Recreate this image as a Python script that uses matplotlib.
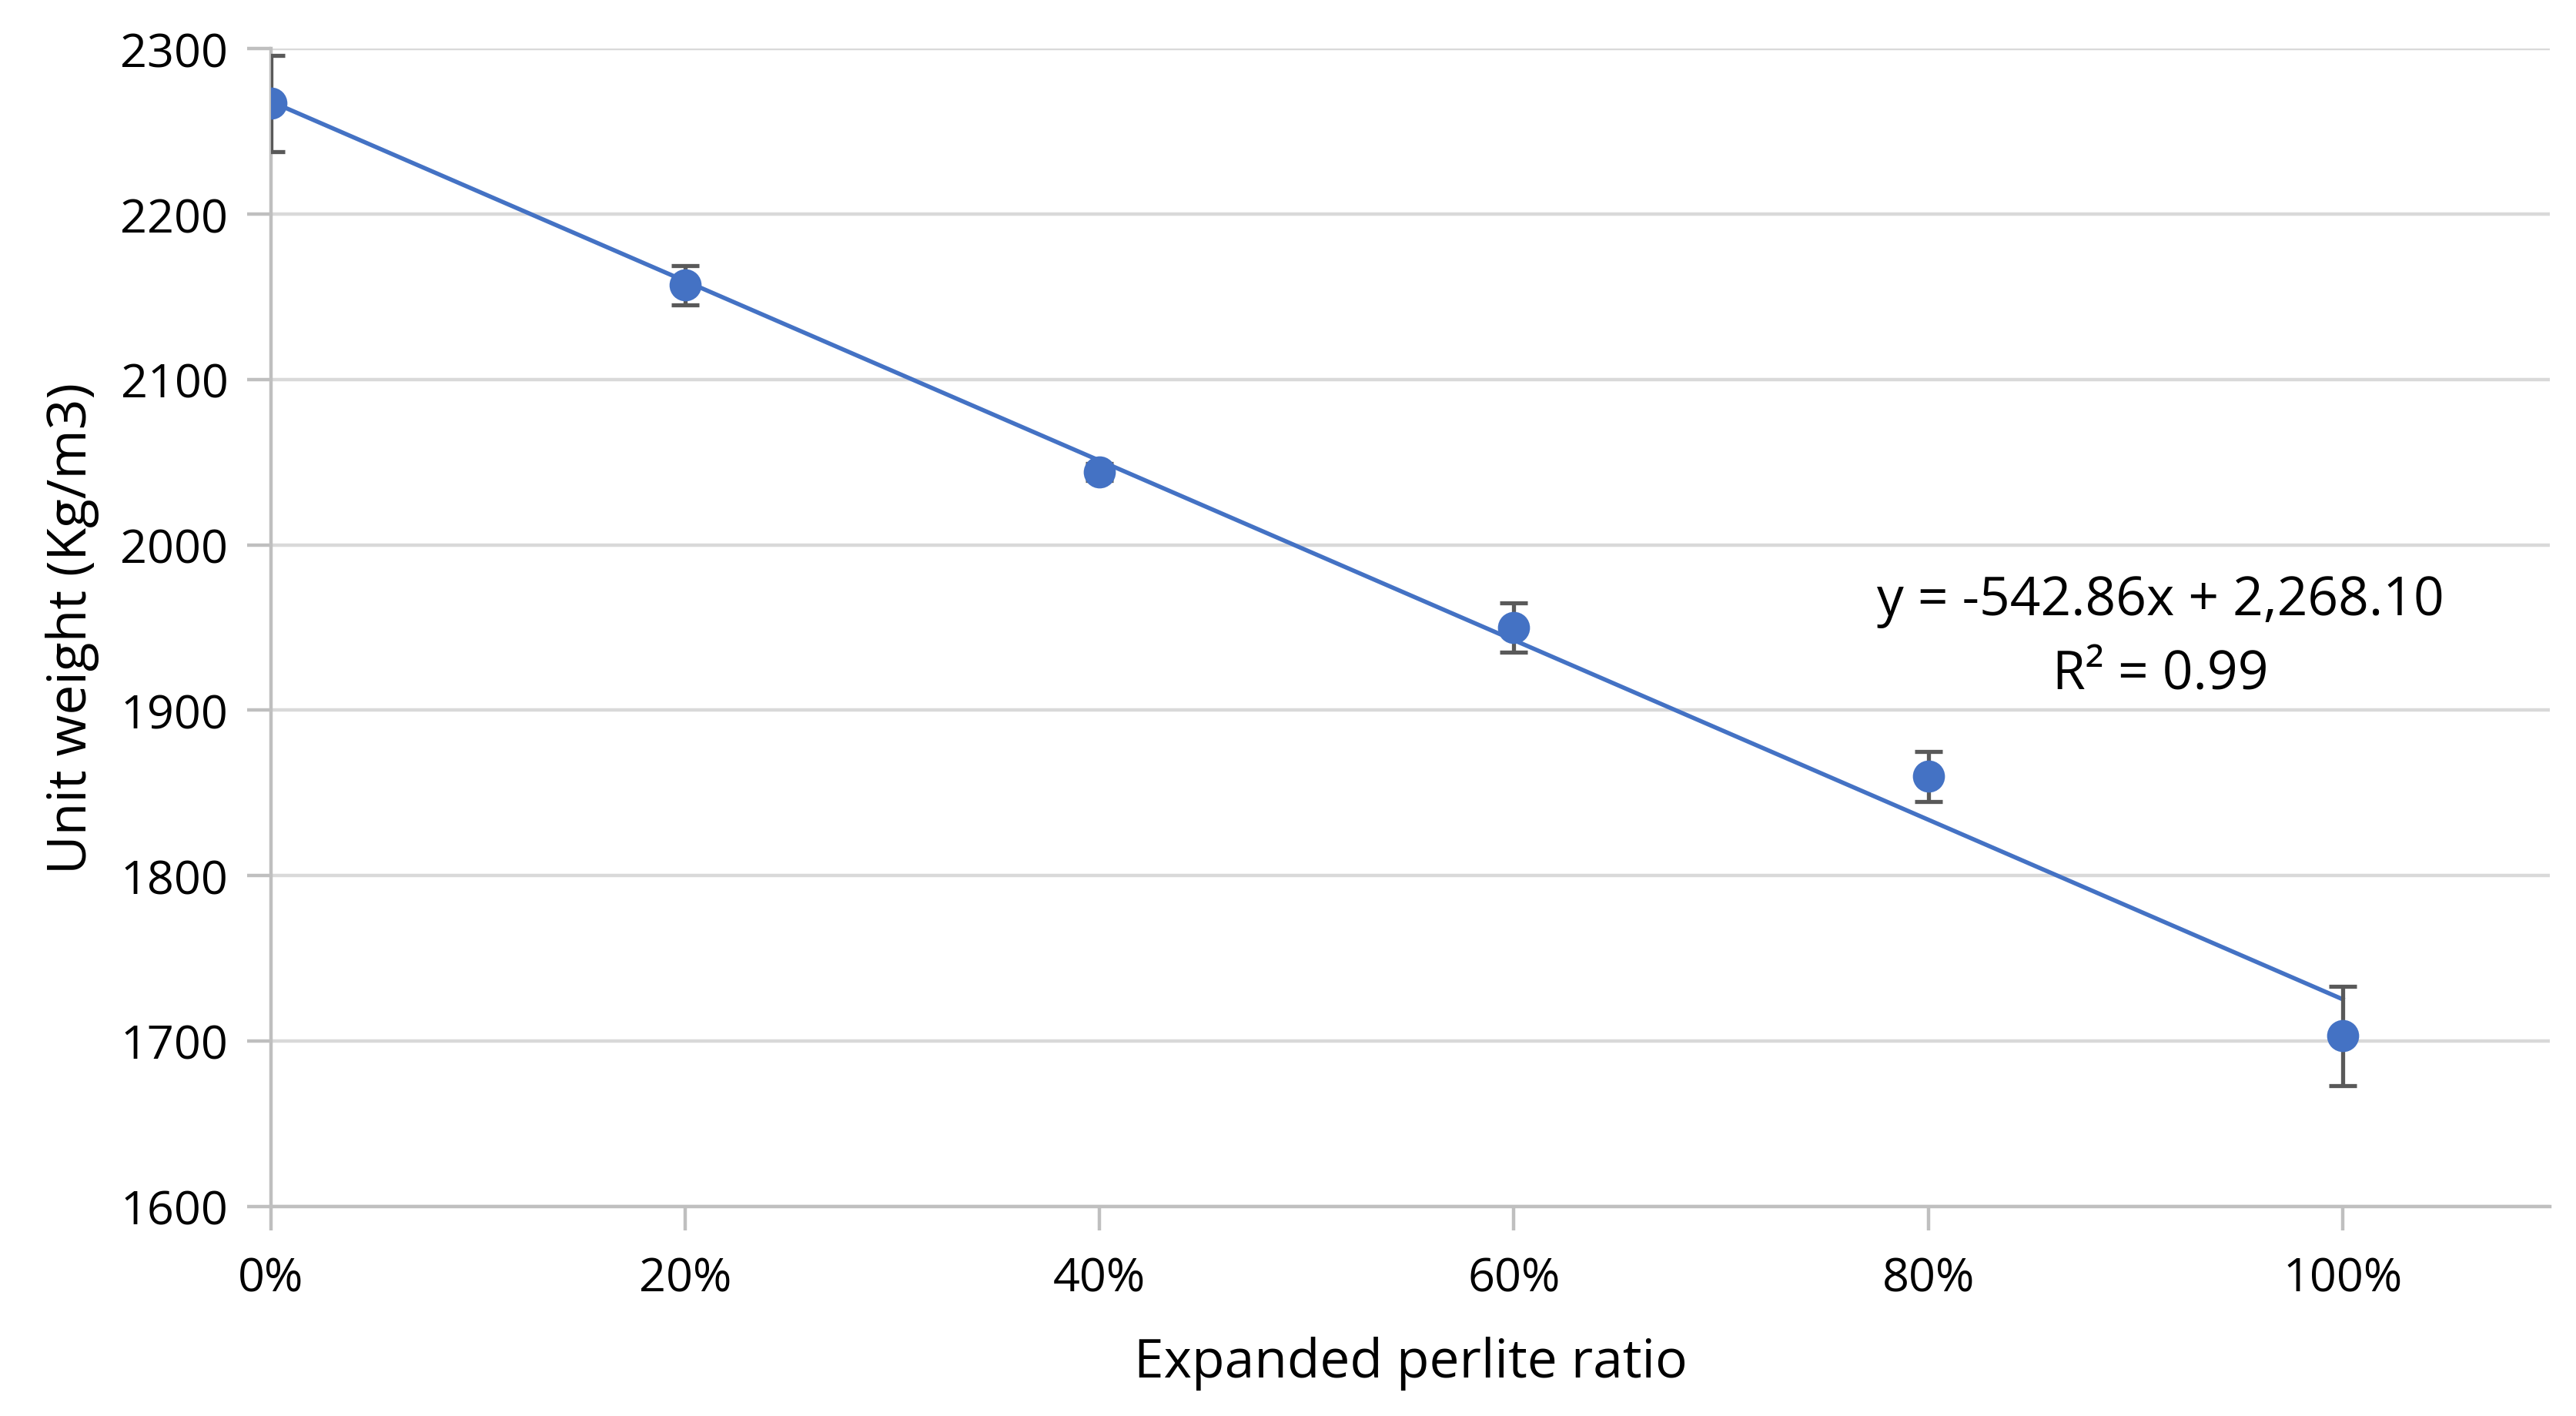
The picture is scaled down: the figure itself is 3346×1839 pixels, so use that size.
import matplotlib.pyplot as plt
import numpy as np
from matplotlib.ticker import FuncFormatter

# perlite ratio vs unit weight
ratio = [0.0, 0.2, 0.4, 0.6, 0.8, 1.0]
unit_weight = [2267, 2157, 2044, 1950, 1860, 1703]
std_dev = [29, 12, 5, 15, 15, 30]

slope = -542.86
intercept = 2268.10
r2 = 0.99

blue = '#4472C4'
grid_c = '#D9D9D9'
axis_c = '#BFBFBF'

plt.rcParams['font.family'] = ['Open Sans', 'DejaVu Sans']

fig = plt.figure(figsize=(16.73, 9.2), dpi=200)
ax = fig.add_axes([0.1052, 0.148, 0.8846, 0.817])

ax.errorbar(ratio, unit_weight, yerr=std_dev, fmt='none', ecolor='#595959',
            elinewidth=1.9, capsize=6.5, capthick=1.9, zorder=3)
ax.plot(ratio, unit_weight, 'o', color=blue, markersize=14, zorder=4)

# linear trendline
tx = np.array([ratio[0], ratio[-1]])
ax.plot(tx, slope * tx + intercept, color=blue, linewidth=2.0, zorder=2)

ax.text(0.912, 1944, 'y = -542.86x + 2,268.10\nR² = %.2f' % r2, ha='center', va='center',
        fontsize=25, linespacing=1.5, color='#000000')

ax.set_xlim(0, 1.1)
ax.set_ylim(1600, 2300)
ax.set_xticks(ratio)
ax.set_yticks(np.arange(1600, 2301, 100))
ax.xaxis.set_major_formatter(FuncFormatter(lambda v, p: '%d%%' % round(v * 100)))

ax.grid(axis='y', color=grid_c, linewidth=1.6, zorder=0)
ax.set_axisbelow(True)
for s in ['top', 'right']:
    ax.spines[s].set_visible(False)
for s in ['left', 'bottom']:
    ax.spines[s].set_color(axis_c)
    ax.spines[s].set_linewidth(1.6)
ax.tick_params(axis='both', colors=axis_c, width=1.6, length=11, labelsize=22,
               labelcolor='#000000')
ax.tick_params(axis='x', pad=12)
ax.tick_params(axis='y', pad=9)

ax.set_xlabel('Expanded perlite ratio', fontsize=25, labelpad=16)
ax.set_ylabel('Unit weight (Kg/m3)', fontsize=25, labelpad=10)

fig.savefig('out.png', dpi=200, facecolor='white')
